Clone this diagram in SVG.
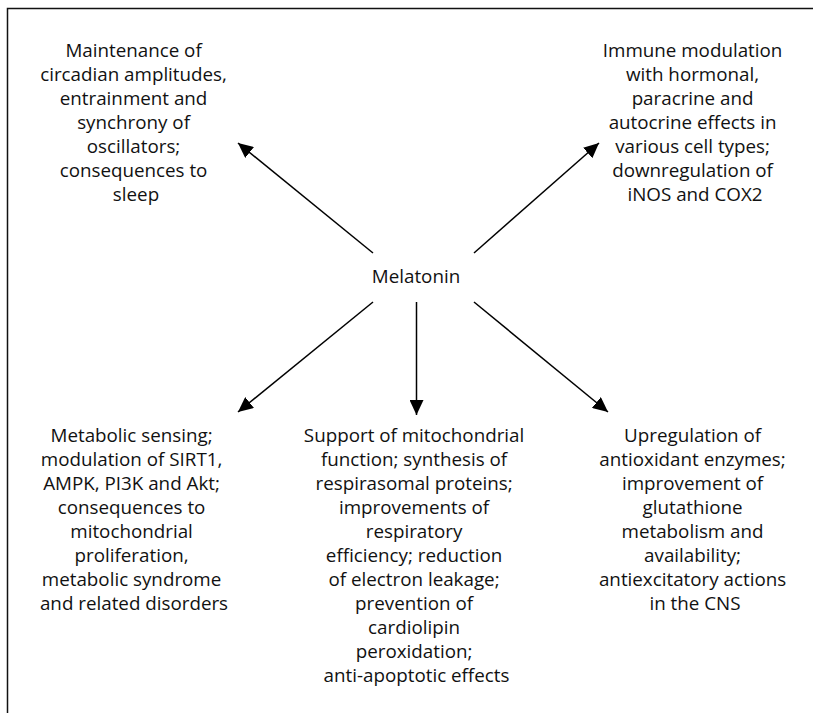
<svg xmlns="http://www.w3.org/2000/svg" width="813" height="713" viewBox="0 0 813 713">
  <style>
    .lbl { font-family: "Open Sans", "Noto Sans", sans-serif; font-size: 18.8px; fill: #111; text-anchor: middle; }
    .frame { fill: none; stroke: #111; stroke-width: 1.5; }
    .conn { stroke: #000; stroke-width: 1.5; fill: none; marker-end: url(#head); }
  </style>
  <defs>
    <marker id="head" markerUnits="userSpaceOnUse" markerWidth="16" markerHeight="14" refX="15" refY="7" orient="auto">
      <path d="M0,0 L15,7 L0,14 z" fill="#000"/>
    </marker>
  </defs>
  <rect width="813" height="713" fill="#fff"/>
  <!-- frame: only top and left edges fall inside the canvas -->
  <path class="frame" d="M7.5,713 V8.5 H813"/>

  <g id="connectors">
    <line class="conn" x1="373" y1="253" x2="238" y2="143"/>
    <line class="conn" x1="474" y1="253" x2="599" y2="143"/>
    <line class="conn" x1="373" y1="302" x2="238" y2="412"/>
    <line class="conn" x1="416.5" y1="302" x2="416.5" y2="415"/>
    <line class="conn" x1="474" y1="302" x2="608" y2="412"/>
  </g>

  <g id="melatonin">
    <text class="lbl" x="416" y="283">Melatonin</text>
  </g>

  <g id="circadian">
    <text class="lbl" x="136" y="57">
      <tspan x="136" dy="0">Maintenance of</tspan>
      <tspan x="136" dy="24">circadian amplitudes,</tspan>
      <tspan x="136" dy="24">entrainment and</tspan>
      <tspan x="136" dy="24">synchrony of</tspan>
      <tspan x="136" dy="24">oscillators;</tspan>
      <tspan x="136" dy="24">consequences to</tspan>
      <tspan x="136" dy="24">sleep</tspan>
    </text>
  </g>

  <g id="immune">
    <text class="lbl" x="695" y="57">
      <tspan x="695" dy="0">Immune modulation</tspan>
      <tspan x="695" dy="24">with hormonal,</tspan>
      <tspan x="695" dy="24">paracrine and</tspan>
      <tspan x="695" dy="24">autocrine effects in</tspan>
      <tspan x="695" dy="24">various cell types;</tspan>
      <tspan x="695" dy="24">downregulation of</tspan>
      <tspan x="695" dy="24">iNOS and COX2</tspan>
    </text>
  </g>

  <g id="metabolic">
    <text class="lbl" x="134" y="442">
      <tspan x="134" dy="0">Metabolic sensing;</tspan>
      <tspan x="134" dy="24">modulation of SIRT1,</tspan>
      <tspan x="134" dy="24">AMPK, PI3K and Akt;</tspan>
      <tspan x="134" dy="24">consequences to</tspan>
      <tspan x="134" dy="24">mitochondrial</tspan>
      <tspan x="134" dy="24">proliferation,</tspan>
      <tspan x="134" dy="24">metabolic syndrome</tspan>
      <tspan x="134" dy="24">and related disorders</tspan>
    </text>
  </g>

  <g id="mitochondrial">
    <text class="lbl" x="416.5" y="442">
      <tspan x="416.5" dy="0">Support of mitochondrial</tspan>
      <tspan x="416.5" dy="24">function; synthesis of</tspan>
      <tspan x="416.5" dy="24">respirasomal proteins;</tspan>
      <tspan x="416.5" dy="24">improvements of</tspan>
      <tspan x="416.5" dy="24">respiratory</tspan>
      <tspan x="416.5" dy="24">efficiency; reduction</tspan>
      <tspan x="416.5" dy="24">of electron leakage;</tspan>
      <tspan x="416.5" dy="24">prevention of</tspan>
      <tspan x="416.5" dy="24">cardiolipin</tspan>
      <tspan x="416.5" dy="24">peroxidation;</tspan>
      <tspan x="416.5" dy="24">anti-apoptotic effects</tspan>
    </text>
  </g>

  <g id="antioxidant">
    <text class="lbl" x="695" y="442">
      <tspan x="695" dy="0">Upregulation of</tspan>
      <tspan x="695" dy="24">antioxidant enzymes;</tspan>
      <tspan x="695" dy="24">improvement of</tspan>
      <tspan x="695" dy="24">glutathione</tspan>
      <tspan x="695" dy="24">metabolism and</tspan>
      <tspan x="695" dy="24">availability;</tspan>
      <tspan x="695" dy="24">antiexcitatory actions</tspan>
      <tspan x="695" dy="24">in the CNS</tspan>
    </text>
  </g>
</svg>
